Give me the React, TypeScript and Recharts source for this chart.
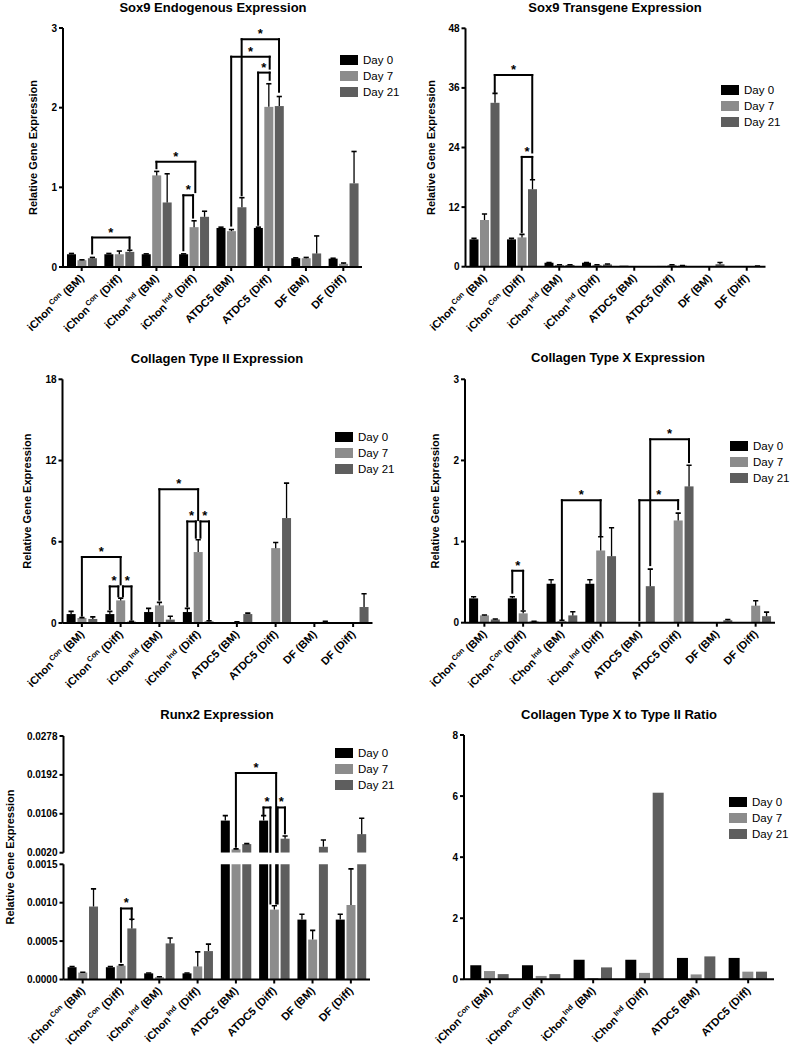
import React from 'react';
import { BarChart, Bar, XAxis, YAxis, ReferenceLine } from 'recharts';

const FONT = '"Liberation Sans", Arial, Helvetica, sans-serif';

// ---------- shared categories / series ----------
const seriesNames = ['Day 0', 'Day 7', 'Day 21'];
const seriesColors = ['#000000', '#8c8c8c', '#5e5e5e'];

const catMain = ['iChon', 'iChon', 'iChon', 'iChon', 'ATDC5', 'ATDC5', 'DF', 'DF'];
const catSup = ['Con', 'Con', 'Ind', 'Ind', '', '', '', ''];
const catSuffix = [' (BM)', ' (Diff)', ' (BM)', ' (Diff)', ' (BM)', ' (Diff)', ' (BM)', ' (Diff)'];

// ---------- Sox9 endogenous ----------
const sox9EndoDay0 = [0.16, 0.16, 0.16, 0.16, 0.49, 0.49, 0.11, 0.105];
const sox9EndoDay7 = [0.085, 0.16, 1.15, 0.5, 0.45, 2.01, 0.11, 0.04];
const sox9EndoDay21 = [0.11, 0.19, 0.81, 0.63, 0.75, 2.02, 0.17, 1.05];
const sox9EndoErr0 = [0.01, 0.01, 0.005, 0.005, 0.01, 0.01, 0.005, 0.005];
const sox9EndoErr7 = [0.005, 0.04, 0.05, 0.08, 0.02, 0.29, 0.01, 0.01];
const sox9EndoErr21 = [0.01, 0.02, 0.36, 0.07, 0.12, 0.12, 0.22, 0.4];

// ---------- Sox9 transgene ----------
const sox9TgDay0 = [5.5, 5.5, 0.8, 0.8, 0.2, 0.15, 0.05, 0.03];
const sox9TgDay7 = [9.4, 5.9, 0.35, 0.35, 0.1, 0.35, 0.05, 0.03];
const sox9TgDay21 = [33.0, 15.6, 0.35, 0.45, 0.1, 0.2, 0.5, 0.12];
const sox9TgErr0 = [0.2, 0.2, 0.05, 0.05, 0, 0, 0, 0];
const sox9TgErr7 = [1.2, 0.6, 0.05, 0.05, 0, 0.05, 0, 0];
const sox9TgErr21 = [1.9, 1.9, 0.05, 0.1, 0, 0.05, 0.35, 0.02];

// ---------- Collagen type II ----------
const col2Day0 = [0.66, 0.66, 0.81, 0.81, 0.02, 0.02, 0.01, 0.01];
const col2Day7 = [0.37, 1.67, 1.3, 5.24, 0.07, 5.53, 0.01, 0.01];
const col2Day21 = [0.3, 0.1, 0.25, 0.12, 0.66, 7.75, 0.08, 1.18];
const col2Err0 = [0.2, 0.2, 0.27, 0.27, 0, 0, 0, 0];
const col2Err7 = [0.03, 0.17, 0.22, 0.91, 0.02, 0.42, 0, 0];
const col2Err21 = [0.15, 0.03, 0.25, 0.05, 0.07, 2.58, 0.05, 0.98];

// ---------- Collagen type X ----------
const col10Day0 = [0.3, 0.3, 0.48, 0.48, 0.005, 0.005, 0.005, 0.005];
const col10Day7 = [0.09, 0.115, 0.02, 0.89, 0.005, 1.26, 0.005, 0.21];
const col10Day21 = [0.04, 0.015, 0.09, 0.82, 0.45, 1.68, 0.03, 0.08];
const col10Err0 = [0.02, 0.02, 0.05, 0.05, 0, 0, 0, 0];
const col10Err7 = [0.005, 0.03, 0.01, 0.17, 0, 0.09, 0, 0.06];
const col10Err21 = [0.005, 0.003, 0.045, 0.35, 0.21, 0.26, 0.01, 0.05];

// ---------- Runx2 ----------
const runx2Day0 = [0.00016, 0.00016, 0.00008, 0.00008, 0.0091, 0.0091, 0.00078, 0.00078];
const runx2Day7 = [0.00009, 0.00018, 0.00003, 0.00017, 0.00275, 0.00091, 0.00052, 0.00097];
const runx2Day21 = [0.00095, 0.000665, 0.00047, 0.00037, 0.0039, 0.0051, 0.0033, 0.0061];
const runx2Err0 = [0.00001, 0.00001, 0.000005, 0.000005, 0.0011, 0.0011, 0.00007, 0.00007];
const runx2Err7 = [0.000005, 0.00001, 0.000005, 0.00019, 0.0001, 0.00005, 0.00012, 0.00047];
const runx2Err21 = [0.00023, 0.00012, 0.00007, 0.00009, 0.0001, 0.0006, 0.0015, 0.0035];

// ---------- Collagen X / II ratio ----------
const ratioDay0 = [0.46, 0.46, 0.64, 0.64, 0.7, 0.7];
const ratioDay7 = [0.27, 0.11, 0.04, 0.21, 0.16, 0.25];
const ratioDay21 = [0.17, 0.17, 0.39, 6.11, 0.75, 0.25];

// ---------- axis ticks ----------
const sox9EndoTicks = [0, 1, 2, 3];
const sox9TgTicks = [0, 12, 24, 36, 48];
const col2Ticks = [0, 6, 12, 18];
const col10Ticks = [0, 1, 2, 3];
const runx2TopTicks = [0.002, 0.0106, 0.0192, 0.0278];
const runx2BottomTicks = [0, 0.0005, 0.001, 0.0015];
const ratioTicks = [0, 2, 4, 6, 8];

// ---------- significance brackets: [category, series, nudge], top, leg bottoms ----------
type End = [number, number, number];
type Bracket = { a: End; b: End; top: number; aLow: number; bLow: number };

const sox9EndoBrackets: Bracket[] = [
  { a: [0, 2, 0], b: [1, 2, 0], top: 0.37, aLow: 0.17, bLow: 0.23 },
  { a: [2, 1, 0], b: [3, 1, 0.04], top: 1.32, aLow: 1.24, bLow: 0.94 },
  { a: [3, 0, 0], b: [3, 1, -0.02], top: 0.9, aLow: 0.21, bLow: 0.62 },
  { a: [4, 1, 0], b: [5, 1, 0.03], top: 2.64, aLow: 0.52, bLow: 2.49 },
  { a: [5, 0, 0], b: [5, 1, 0.03], top: 2.44, aLow: 0.53, bLow: 2.35 },
  { a: [4, 2, 0], b: [5, 2, 0], top: 2.86, aLow: 0.9, bLow: 2.2 },
];
const sox9TgBrackets: Bracket[] = [
  { a: [0, 2, 0], b: [1, 2, 0], top: 38.6, aLow: 35.2, bLow: 23.0 },
  { a: [1, 1, 0], b: [1, 2, 0], top: 22.1, aLow: 7.0, bLow: 17.8 },
];
const col2Brackets: Bracket[] = [
  { a: [0, 1, 0], b: [1, 1, 0], top: 4.87, aLow: 0.54, bLow: 2.85 },
  { a: [1, 0, 0], b: [1, 1, -0.06], top: 2.7, aLow: 1.03, bLow: 1.97 },
  { a: [1, 1, 0.06], b: [1, 2, 0], top: 2.7, aLow: 1.97, bLow: 0.25 },
  { a: [2, 1, 0], b: [3, 1, 0], top: 9.88, aLow: 1.72, bLow: 7.6 },
  { a: [3, 0, 0], b: [3, 1, -0.06], top: 7.5, aLow: 1.23, bLow: 6.3 },
  { a: [3, 1, 0.06], b: [3, 2, 0], top: 7.5, aLow: 6.3, bLow: 0.3 },
];
const col10Brackets: Bracket[] = [
  { a: [1, 0, 0], b: [1, 1, 0], top: 0.64, aLow: 0.37, bLow: 0.165 },
  { a: [2, 1, 0], b: [3, 1, 0], top: 1.51, aLow: 0.04, bLow: 1.08 },
  { a: [4, 1, 0], b: [5, 1, 0], top: 1.51, aLow: 0.03, bLow: 1.4 },
  { a: [4, 2, 0], b: [5, 2, 0], top: 2.26, aLow: 0.71, bLow: 1.98 },
];
const runx2Brackets: Bracket[] = [
  { a: [4, 1, 0], b: [5, 1, 0.05], top: 0.0196, aLow: 0.0033, bLow: 0.00099 },
  { a: [5, 0, 0], b: [5, 1, -0.1], top: 0.012, aLow: 0.0103, bLow: 0.00099 },
  { a: [5, 1, 0.09], b: [5, 2, 0], top: 0.012, aLow: 0.00099, bLow: 0.0063 },
  { a: [1, 1, 0], b: [1, 2, 0], top: 0.000926, aLow: 0.00023, bLow: 0.00078 },
];

const groupOffsets = [-0.28, 0, 0.28];
const ratioOffsets = [-0.265, 0, 0.265];

// ---------- helpers ----------
type Row = { x: number; v: number; e: number; s: number };
function buildRows(vals: number[][], errs: number[][] | null, offs: number[]): Row[] {
  const rows: Row[] = [];
  vals.forEach((arr, s) =>
    arr.forEach((v, c) => rows.push({ x: c + offs[s], v, e: errs ? errs[s][c] : 0, s }))
  );
  return rows;
}

const makeBarShape = (base: number) => (props: any) => {
  const { x, y, width, height, payload } = props;
  if (!payload || payload.v == null || payload.v <= base || !(height > 0)) return <g />;
  const ppu = height / (payload.v - base);
  const cx = x + width / 2;
  const e = payload.e || 0;
  const top = y - e * ppu;
  return (
    <g>
      <rect x={x} y={y} width={width} height={height} fill={seriesColors[payload.s]} />
      {e > 0 ? (
        <g stroke="#000">
          <line x1={cx} y1={y} x2={cx} y2={top} strokeWidth={1.3} />
          <line x1={cx - 2.6} y1={top} x2={cx + 2.6} y2={top} strokeWidth={1.6} />
        </g>
      ) : null}
    </g>
  );
};

const CatTick = (props: any) => {
  const { x, y, payload } = props;
  const i = Math.round(payload.value);
  const sup = catSup[i];
  return (
    <g transform={`translate(${x + 3},${y + 6})`}>
      <text
        transform="rotate(-45)"
        textAnchor="end"
        fontFamily={FONT}
        fontSize={11}
        fontWeight="bold"
        fill="#000"
      >
        <tspan>{catMain[i]}</tspan>
        {sup ? (
          <tspan dx={1.5} dy={-4.5} fontSize={7.5}>
            {sup}
          </tspan>
        ) : null}
        <tspan dy={sup ? 4.5 : 0}>{catSuffix[i]}</tspan>
      </text>
    </g>
  );
};

function bracketLines(list: Bracket[], offs: number[], clip: boolean, domain: [number, number], prefix: string) {
  const out: React.ReactElement[] = [];
  list.forEach((br, k) => {
    const xa = br.a[0] + offs[br.a[1]] + br.a[2];
    const xb = br.b[0] + offs[br.b[1]] + br.b[2];
    const common: any = {
      stroke: '#000',
      strokeWidth: 2,
      strokeLinecap: 'square',
      ifOverflow: clip ? 'hidden' : 'visible',
    };
    const showStar = br.top >= domain[0] && br.top <= domain[1];
    out.push(
      <ReferenceLine key={`${prefix}-${k}-a`} segment={[{ x: xa, y: br.aLow }, { x: xa, y: br.top }]} {...common} />
    );
    out.push(
      <ReferenceLine key={`${prefix}-${k}-b`} segment={[{ x: xb, y: br.bLow }, { x: xb, y: br.top }]} {...common} />
    );
    out.push(
      <ReferenceLine
        key={`${prefix}-${k}-h`}
        segment={[{ x: xa, y: br.top }, { x: xb, y: br.top }]}
        {...common}
        label={
          showStar
            ? { value: '*', position: 'top', offset: 1, fill: '#000', fontSize: 13, fontWeight: 'bold', fontFamily: FONT }
            : undefined
        }
      />
    );
  });
  return out;
}

type PanelProps = {
  left: number;
  top: number;
  width: number;
  height: number;
  plot: { x: number; y: number; w: number; h: number };
  rows: Row[];
  nCat: number;
  yDomain: [number, number];
  yTicks: number[];
  fmt?: (v: number) => string;
  barSize: number;
  brackets: Bracket[];
  offs: number[];
  yLabelX?: number;
  hideX?: boolean;
  clip?: boolean;
  id: string;
};

function Panel(p: PanelProps) {
  const yAxisW = 50;
  const mLeft = p.plot.x - p.left - yAxisW;
  const mRight = p.left + p.width - (p.plot.x + p.plot.w);
  const mTop = p.plot.y - p.top;
  const xH = p.hideX ? 0 : 64;
  const mBottom = p.top + p.height - (p.plot.y + p.plot.h) - xH;
  const catTicks = Array.from({ length: p.nCat }, (_, i) => i);
  const axisStroke = { stroke: '#000', strokeWidth: 2 };
  return (
    <div style={{ position: 'absolute', left: p.left, top: p.top }}>
      <BarChart
        width={p.width}
        height={p.height}
        data={p.rows}
        margin={{ top: mTop, right: mRight, bottom: mBottom, left: mLeft }}
      >
        <XAxis
          type="number"
          dataKey="x"
          domain={[-0.5, p.nCat - 0.5]}
          ticks={catTicks}
          interval={0}
          allowDataOverflow
          hide={!!p.hideX}
          height={p.hideX ? 0 : xH}
          tick={<CatTick />}
          tickLine={axisStroke}
          axisLine={axisStroke}
          tickSize={4}
        />
        <YAxis
          type="number"
          domain={p.yDomain}
          ticks={p.yTicks}
          allowDataOverflow
          width={yAxisW}
          tickFormatter={p.fmt}
          tick={{ fontSize: 10, fontWeight: 'bold', fill: '#000', fontFamily: FONT }}
          tickLine={axisStroke}
          axisLine={axisStroke}
          tickSize={4}
          label={
            p.yLabelX != null
              ? {
                  value: 'Relative Gene Expression',
                  angle: -90,
                  position: 'insideLeft',
                  offset: p.yLabelX - p.left - mLeft,
                  style: { textAnchor: 'middle' },
                  fontSize: 11,
                  fontWeight: 'bold',
                  fill: '#000',
                  fontFamily: FONT,
                }
              : undefined
          }
        />
        <Bar dataKey="v" barSize={p.barSize} isAnimationActive={false} shape={makeBarShape(p.yDomain[0])} />
        {bracketLines(p.brackets, p.offs, !!p.clip, p.yDomain, p.id)}
      </BarChart>
    </div>
  );
}

function Title({ cx, cy, text }: { cx: number; cy: number; text: string }) {
  return (
    <div
      style={{
        position: 'absolute',
        left: cx - 170,
        width: 340,
        top: cy - 8,
        textAlign: 'center',
        fontFamily: FONT,
        fontWeight: 'bold',
        fontSize: 13,
        lineHeight: '16px',
        color: '#000',
      }}
    >
      {text}
    </div>
  );
}

function LegendBox({ left, cy }: { left: number; cy: number }) {
  return (
    <div style={{ position: 'absolute', left, top: cy - 8, fontFamily: FONT, fontSize: 11.5, color: '#000' }}>
      {seriesNames.map((n, i) => (
        <div key={n} style={{ display: 'flex', alignItems: 'center', height: 16, whiteSpace: 'nowrap' }}>
          <div style={{ width: 18, height: 10, background: seriesColors[i], marginRight: 5 }} />
          <span>{n}</span>
        </div>
      ))}
    </div>
  );
}

const sox9EndoRows = buildRows([sox9EndoDay0, sox9EndoDay7, sox9EndoDay21], [sox9EndoErr0, sox9EndoErr7, sox9EndoErr21], groupOffsets);
const sox9TgRows = buildRows([sox9TgDay0, sox9TgDay7, sox9TgDay21], [sox9TgErr0, sox9TgErr7, sox9TgErr21], groupOffsets);
const col2Rows = buildRows([col2Day0, col2Day7, col2Day21], [col2Err0, col2Err7, col2Err21], groupOffsets);
const col10Rows = buildRows([col10Day0, col10Day7, col10Day21], [col10Err0, col10Err7, col10Err21], groupOffsets);
const runx2Rows = buildRows([runx2Day0, runx2Day7, runx2Day21], [runx2Err0, runx2Err7, runx2Err21], groupOffsets);
const ratioRows = buildRows([ratioDay0, ratioDay7, ratioDay21], null, ratioOffsets);

const fmtInt = (v: number) => String(v);
const fmt4 = (v: number) => v.toFixed(4);

export default function App() {
  return (
    <div
      style={{
        position: 'absolute',
        left: 0,
        top: 0,
        width: 791,
        height: 1048,
        overflow: 'hidden',
        background: '#fff',
      }}
    >
      <Title cx={213} cy={8} text="Sox9 Endogenous Expression" />
      <Panel
        id="p1"
        left={0}
        top={0}
        width={395}
        height={340}
        plot={{ x: 63, y: 28, w: 299, h: 239 }}
        rows={sox9EndoRows}
        nCat={8}
        yDomain={[0, 3]}
        yTicks={sox9EndoTicks}
        fmt={fmtInt}
        barSize={9}
        brackets={sox9EndoBrackets}
        offs={groupOffsets}
        yLabelX={33}
      />
      <LegendBox left={340} cy={60} />

      <Title cx={615} cy={8} text="Sox9 Transgene Expression" />
      <Panel
        id="p2"
        left={400}
        top={0}
        width={391}
        height={340}
        plot={{ x: 465.5, y: 28.3, w: 300, h: 238.4 }}
        rows={sox9TgRows}
        nCat={8}
        yDomain={[0, 48]}
        yTicks={sox9TgTicks}
        fmt={fmtInt}
        barSize={9}
        brackets={sox9TgBrackets}
        offs={groupOffsets}
        yLabelX={430.7}
      />
      <LegendBox left={721} cy={90} />

      <Title cx={217} cy={359} text="Collagen Type II Expression" />
      <Panel
        id="p3"
        left={0}
        top={340}
        width={395}
        height={356}
        plot={{ x: 62.5, y: 379.3, w: 310, h: 243.7 }}
        rows={col2Rows}
        nCat={8}
        yDomain={[0, 18]}
        yTicks={col2Ticks}
        fmt={fmtInt}
        barSize={9}
        brackets={col2Brackets}
        offs={groupOffsets}
        yLabelX={26.7}
      />
      <LegendBox left={335} cy={437} />

      <Title cx={618} cy={358} text="Collagen Type X Expression" />
      <Panel
        id="p4"
        left={400}
        top={340}
        width={391}
        height={356}
        plot={{ x: 465, y: 379.3, w: 310, h: 243.4 }}
        rows={col10Rows}
        nCat={8}
        yDomain={[0, 3]}
        yTicks={col10Ticks}
        fmt={fmtInt}
        barSize={9}
        brackets={col10Brackets}
        offs={groupOffsets}
        yLabelX={435}
      />
      <LegendBox left={730} cy={446} />

      <Title cx={217} cy={715} text="Runx2 Expression" />
      <Panel
        id="p5t"
        left={0}
        top={725}
        width={395}
        height={135}
        plot={{ x: 63.5, y: 736, w: 306.5, h: 116.7 }}
        rows={runx2Rows}
        nCat={8}
        yDomain={[0.002, 0.0278]}
        yTicks={runx2TopTicks}
        fmt={fmt4}
        barSize={9}
        brackets={runx2Brackets}
        offs={groupOffsets}
        hideX
        clip
      />
      <Panel
        id="p5b"
        left={0}
        top={855}
        width={395}
        height={193}
        plot={{ x: 63.5, y: 864.3, w: 306.5, h: 115.2 }}
        rows={runx2Rows}
        nCat={8}
        yDomain={[0, 0.0015]}
        yTicks={runx2BottomTicks}
        fmt={fmt4}
        barSize={9}
        brackets={runx2Brackets}
        offs={groupOffsets}
        clip
      />
      <svg style={{ position: 'absolute', left: 0, top: 780 }} width={22} height={160}>
        <text
          x={9.5}
          y={77}
          transform="rotate(-90, 9.5, 77)"
          textAnchor="middle"
          dominantBaseline="central"
          fontFamily={FONT}
          fontSize={11}
          fontWeight="bold"
          fill="#000"
        >
          Relative Gene Expression
        </text>
      </svg>
      <LegendBox left={335} cy={753} />

      <Title cx={619} cy={715} text="Collagen Type X to Type II Ratio" />
      <Panel
        id="p6"
        left={400}
        top={690}
        width={391}
        height={358}
        plot={{ x: 464, y: 735, w: 310, h: 244.3 }}
        rows={ratioRows}
        nCat={6}
        yDomain={[0, 8]}
        yTicks={ratioTicks}
        fmt={fmtInt}
        barSize={11}
        brackets={[]}
        offs={ratioOffsets}
      />
      <LegendBox left={729} cy={802} />
    </div>
  );
}
